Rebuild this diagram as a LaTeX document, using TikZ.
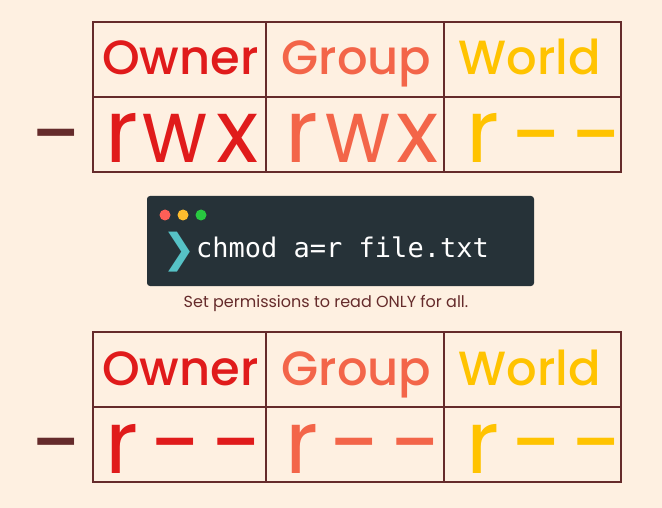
\documentclass[tikz,border=0pt]{standalone}
\usepackage{fontspec}
\setmainfont{Poppins}
\newfontfamily\headfont{Poppins Medium}
\newfontfamily\monofont{DejaVu Sans Mono}
\newfontfamily\symfont{DejaVu Sans}
\definecolor{bgpeach}{HTML}{FEF0E1}
\definecolor{linebrown}{HTML}{652B2B}
\definecolor{ownred}{HTML}{E01B1B}
\definecolor{grpcoral}{HTML}{F36549}
\definecolor{wldamber}{HTML}{FFC300}
\definecolor{termdark}{HTML}{263238}
\definecolor{promptteal}{HTML}{56C2C6}
\definecolor{dotred}{HTML}{FF5F57}
\definecolor{dotyellow}{HTML}{FEBC2E}
\definecolor{dotgreen}{HTML}{28C840}

\begin{document}
\begin{tikzpicture}[x=1pt,y=-1pt]
    \tikzset{
        cell/.style={draw=linebrown, line width=2.6pt, inner sep=0pt, minimum height=75pt},
        head/.style={anchor=base, inner sep=0pt, font=\headfont\fontsize{48}{48}\selectfont},
        perm/.style={anchor=base, inner sep=0pt, font=\fontsize{88}{88}\selectfont},
        dashchar/.style={anchor=base, inner sep=0pt, font=\fontsize{92}{92}\selectfont},
        lead/.style={anchor=base, inner sep=0pt, text=linebrown, font=\fontsize{92}{92}\selectfont},
        dot/.style={circle, inner sep=0pt, minimum size=11pt},
    }
    \useasboundingbox (0,0) rectangle (662,508);
    \fill[bgpeach] (0,0) rectangle (662,508);

    % before: rwxrwxr--
    \node[cell, minimum width=173pt] (ownhead) at (179.5,59.5){};
    \node[cell, minimum width=178pt] (grphead) at (355,59.5){};
    \node[cell, minimum width=177pt] (wldhead) at (532.5,59.5){};
    \node[cell, minimum width=173pt] (ownperm) at (179.5,134.5){};
    \node[cell, minimum width=178pt] (grpperm) at (355,134.5){};
    \node[cell, minimum width=177pt] (wldperm) at (532.5,134.5){};

    \node[head, text=ownred] (ownlbl) at (180.5,75){Owner};
    \node[head, text=grpcoral] (grplbl) at (356.5,75){Group};
    \node[head, text=wldamber] (wldlbl) at (530,75){World};

    \node[lead] (lead1) at (58,167){-};
    \node[perm, text=ownred] (or1) at (121.5,163){r};
    \node[perm, text=ownred, xscale=0.9] (ow1) at (175,163){w};
    \node[perm, text=ownred] (ox1) at (237.5,163){x};
    \node[perm, text=grpcoral] (gr1) at (301.5,163){r};
    \node[perm, text=grpcoral, xscale=0.9] (gw1) at (358,163){w};
    \node[perm, text=grpcoral] (gx1) at (417.5,163){x};
    \node[perm, text=wldamber] (wr1) at (482.5,163){r};
    \node[dashchar, text=wldamber] (wd1) at (537.5,168){-};
    \node[dashchar, text=wldamber] (we1) at (597.5,168){-};

    % terminal
    \node[fill=termdark, rounded corners=3pt, minimum width=387pt, minimum height=90pt] (term) at (340.5,241){};
    \node[dot, fill=dotred] (dotr) at (165,215){};
    \node[dot, fill=dotyellow] (doty) at (183,215){};
    \node[dot, fill=dotgreen] (dotg) at (201,215){};
    \node[anchor=base, inner sep=0pt, text=promptteal, font=\symfont\fontsize{40}{40}\selectfont] (prompt) at (179,262){❯};
    \node[anchor=base west, inner sep=0pt, text=white, font=\monofont\fontsize{27}{27}\selectfont] (cmd) at (196,258){chmod a=r file.txt};
    \node[anchor=base, inner sep=0pt, text=linebrown, font=\fontsize{16}{16}\selectfont] (note) at (326,307){Set permissions to read ONLY for all.};

    % after: r--r--r--
    \node[cell, minimum width=173pt] (ownhead2) at (179.5,369.5){};
    \node[cell, minimum width=178pt] (grphead2) at (355,369.5){};
    \node[cell, minimum width=177pt] (wldhead2) at (532.5,369.5){};
    \node[cell, minimum width=173pt] (ownperm2) at (179.5,444.5){};
    \node[cell, minimum width=178pt] (grpperm2) at (355,444.5){};
    \node[cell, minimum width=177pt] (wldperm2) at (532.5,444.5){};

    \node[head, text=ownred] (ownlbl2) at (180.5,385){Owner};
    \node[head, text=grpcoral] (grplbl2) at (356.5,385){Group};
    \node[head, text=wldamber] (wldlbl2) at (530,385){World};

    \node[lead] (lead2) at (58,475){-};
    \node[perm, text=ownred] (or2) at (121.5,473){r};
    \node[dashchar, text=ownred] (od2) at (177,475){-};
    \node[dashchar, text=ownred] (oe2) at (237.5,475){-};
    \node[perm, text=grpcoral] (gr2) at (301.5,473){r};
    \node[dashchar, text=grpcoral] (gd2) at (356,475){-};
    \node[dashchar, text=grpcoral] (ge2) at (417,475){-};
    \node[perm, text=wldamber] (wr2) at (482.5,473){r};
    \node[dashchar, text=wldamber] (wd2) at (537.5,475){-};
    \node[dashchar, text=wldamber] (we2) at (597.5,475){-};
\end{tikzpicture}
\end{document}
